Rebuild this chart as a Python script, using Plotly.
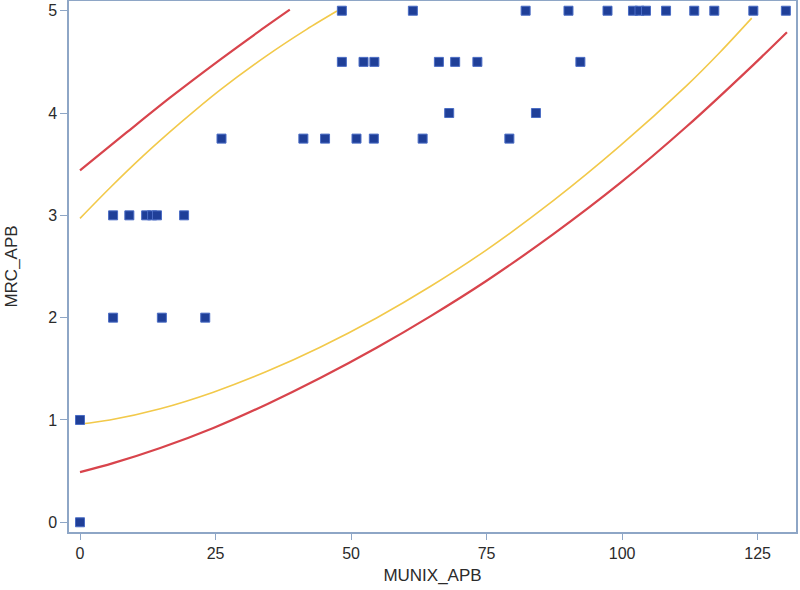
import plotly.graph_objects as go

# Observed data points
munix = [48.3, 61.4, 82.2, 90.1, 97.3, 102.0, 103.2, 104.4, 108.1, 113.3, 117.0, 124.2, 130.2,
         48.3, 52.3, 54.3, 66.2, 69.2, 73.3, 92.3,
         68.1, 84.1,
         26.1, 41.2, 45.2, 51.0, 54.2, 63.2, 79.2,
         6.1, 9.1, 12.2, 13.3, 14.2, 19.2,
         6.1, 15.1, 23.1,
         0.0, 0.0]
mrc = [5, 5, 5, 5, 5, 5, 5, 5, 5, 5, 5, 5, 5,
       4.5, 4.5, 4.5, 4.5, 4.5, 4.5, 4.5,
       4, 4,
       3.75, 3.75, 3.75, 3.75, 3.75, 3.75, 3.75,
       3, 3, 3, 3, 3, 3,
       2, 2, 2,
       1, 0]

# Outer (red) upper band
red_up_x = [0, 8.6, 16.6, 25.8, 33.2, 38.7]
red_up_y = [3.44, 3.81, 4.15, 4.52, 4.805, 5.01]
# Inner (yellow) upper band
yel_up_x = [0, 5.5, 11.7, 18.5, 25.8, 34.4, 41.8, 47.4]
yel_up_y = [2.97, 3.267, 3.583, 3.903, 4.224, 4.559, 4.818, 4.997]
# Inner (yellow) lower band
yel_lo_x = [0, 5.5, 14.8, 24.6, 34.4, 44.3, 54.7, 64.6, 75.0, 87.3, 99.6, 111.9, 118.1, 123.9]
yel_lo_y = [0.96, 1.00, 1.11, 1.272, 1.473, 1.711, 1.997, 2.304, 2.663, 3.143, 3.678, 4.268, 4.597, 4.928]
# Outer (red) lower band
red_lo_x = [0, 6.1, 14.8, 24.6, 34.4, 44.3, 54.7, 64.6, 75.0, 87.3, 99.6, 111.9, 124.2, 130.4]
red_lo_y = [0.49, 0.578, 0.726, 0.922, 1.152, 1.41, 1.706, 2.013, 2.361, 2.816, 3.314, 3.868, 4.471, 4.79]

x_ticks = [0, 25, 50, 75, 100, 125]
y_ticks = [0, 1, 2, 3, 4, 5]

RED = "#d8444c"
YEL = "#f2c94a"

fig = go.Figure()
for xs, ys, col, w in [(red_up_x, red_up_y, RED, 2.2), (yel_up_x, yel_up_y, YEL, 1.6),
                       (yel_lo_x, yel_lo_y, YEL, 1.6), (red_lo_x, red_lo_y, RED, 2.2)]:
    fig.add_trace(go.Scatter(x=xs, y=ys, mode="lines",
                             line=dict(color=col, width=w, shape="spline", smoothing=0.8),
                             showlegend=False, hoverinfo="skip"))

fig.add_trace(go.Scatter(x=munix, y=mrc, mode="markers",
                         marker=dict(symbol="square", size=9, color="#1f3f98",
                                     line=dict(color="#4a6cc4", width=1)),
                         showlegend=False))

axis_col = "#8ea6c6"
font_col = "#2b2b2b"
fig.update_layout(
    width=800, height=590,
    margin=dict(l=69, r=4, t=1, b=58),
    paper_bgcolor="white", plot_bgcolor="white",
    font=dict(family="Liberation Sans, Arial, sans-serif", size=16, color=font_col),
    xaxis=dict(range=[-2.03, 132.07], tickvals=x_ticks, ticktext=[str(v) for v in x_ticks],
               showgrid=False, zeroline=False, showline=True, linecolor=axis_col, linewidth=1.5,
               mirror=True, ticks="outside", ticklen=6, tickcolor=axis_col, automargin=False,
               title=dict(text="MUNIX_APB", font=dict(size=17), standoff=8)),
    yaxis=dict(range=[-0.095, 5.095], tickvals=y_ticks, ticktext=[str(v) for v in y_ticks],
               showgrid=False, zeroline=False, showline=True, linecolor=axis_col, linewidth=1.5,
               mirror=True, ticks="outside", ticklen=7, tickcolor=axis_col, automargin=False,
               title=dict(text="MRC_APB", font=dict(size=17), standoff=26)),
)

fig.write_html("out.html", post_script="document.body.style.margin='0';",
               config={"displayModeBar": False})
